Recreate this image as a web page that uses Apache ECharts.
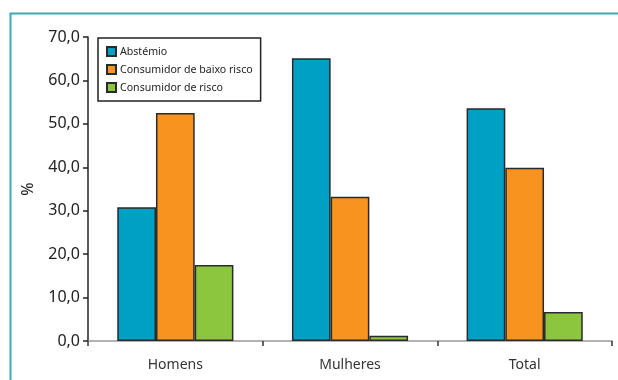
<!DOCTYPE html>
<html>
<head>
<meta charset="utf-8">
<script src="https://cdn.jsdelivr.net/npm/echarts@6/dist/echarts.min.js"></script>
<style>
  html, body { margin: 0; padding: 0; background: #fff; }
  #chart { width: 618px; height: 380px; }
</style>
</head>
<body>
<div id="chart"></div>
<script>
// Consumo de álcool por sexo (%)
const categories = ['Homens', 'Mulheres', 'Total'];
const seriesNames = ['Abstémio', 'Consumidor de baixo risco', 'Consumidor de risco'];
const abstemio = [30.8, 65.1, 53.6];
const baixoRisco = [52.5, 33.2, 39.9];
const risco = [17.5, 1.2, 6.7];
const seriesValues = [abstemio, baixoRisco, risco];
const seriesColors = ['#009FC4', '#F7931E', '#8CC63F'];

const FONT = '"Noto Sans", sans-serif';

const chart = echarts.init(document.getElementById('chart'), null, { renderer: 'canvas' });

chart.setOption({
  animation: false,
  backgroundColor: '#fff',
  textStyle: { fontFamily: FONT },
  graphic: [{
    type: 'rect',
    left: 8, top: 11,
    shape: { width: 630, height: 400 },
    style: { fill: 'none', stroke: '#3BAAB6', lineWidth: 2 },
    z: -1
  }],
  grid: { left: 88, right: 6, top: 37, bottom: 39 },
  legend: {
    left: 98, top: 38,
    orient: 'vertical',
    icon: 'rect',
    itemWidth: 9, itemHeight: 9,
    itemGap: 7,
    padding: [8, 8, 8, 8],
    borderColor: '#222', borderWidth: 1.5,
    backgroundColor: '#fff',
    textStyle: { fontFamily: FONT, fontSize: 10.6, color: '#222', padding: [0, 0, 0, -1] },
    data: seriesNames
  },
  xAxis: {
    type: 'category',
    data: categories,
    axisLine: { lineStyle: { color: '#999', width: 1.5 } },
    axisTick: { show: true, length: 5, lineStyle: { color: '#333', width: 1.5 } },
    axisLabel: { fontFamily: FONT, fontSize: 14, color: '#333', margin: 17 },
    splitLine: { show: false }
  },
  yAxis: {
    type: 'value',
    min: 0, max: 70, interval: 10,
    name: '%',
    nameLocation: 'middle',
    nameRotate: 90,
    nameGap: 52,
    nameTextStyle: { fontFamily: FONT, fontSize: 16, color: '#222' },
    axisLine: { show: true, lineStyle: { color: '#222', width: 1.5 } },
    axisTick: { show: true, length: 5, lineStyle: { color: '#222', width: 1.5 } },
    axisLabel: {
      fontFamily: FONT, fontSize: 16, color: '#222', margin: 8,
      formatter: v => v.toFixed(1).replace('.', ',')
    },
    splitLine: { show: false }
  },
  series: seriesNames.map((name, i) => ({
    name,
    type: 'bar',
    data: seriesValues[i],
    barGap: '0%',
    barCategoryGap: '33.5%',
    itemStyle: { color: seriesColors[i], borderColor: '#2a2a2a', borderWidth: 1.5 }
  }))
});
</script>
</body>
</html>
